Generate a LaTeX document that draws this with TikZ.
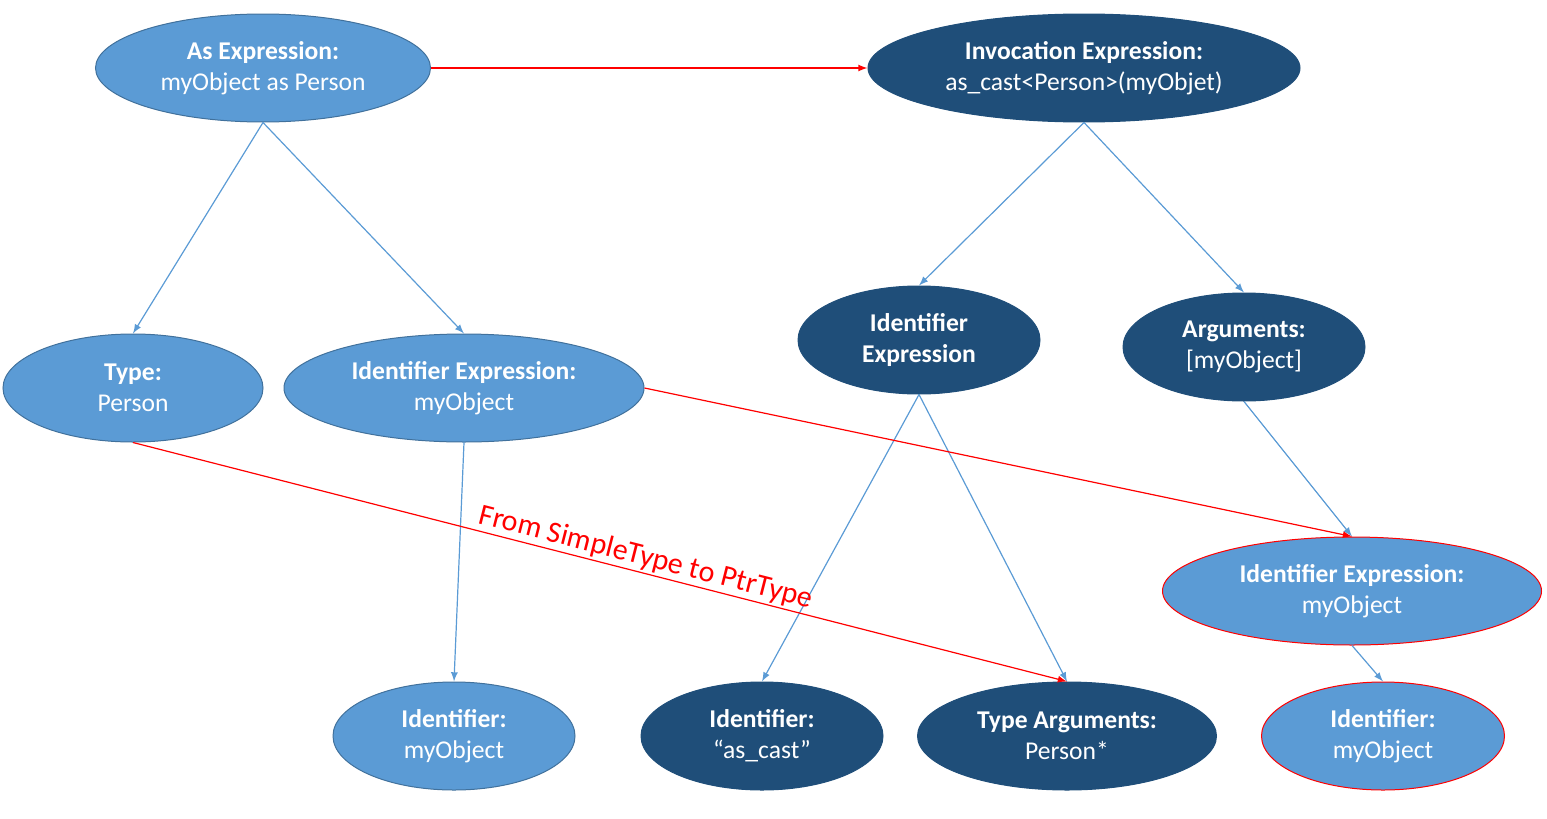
\documentclass[tikz,border=0pt]{standalone}
\usepackage{fontspec}
\setmainfont{Carlito}
\usepackage{xcolor}
\usetikzlibrary{shapes.geometric}

\definecolor{lightblue}{HTML}{5B9BD5}
\definecolor{lightrim}{HTML}{41719C}
\definecolor{darkblue}{HTML}{1F4E79}
\definecolor{edgeblue}{HTML}{5B9BD5}
\definecolor{pptred}{HTML}{FF0000}

\tikzset{
  astnode/.style={ellipse,inner sep=0pt,text=white,align=center,line width=0.5pt,
    minimum height=54pt,font=\fontsize{12.8}{15.5}\selectfont},
  lightnode/.style={astnode,fill=lightblue,draw=lightrim},
  darknode/.style={astnode,fill=darkblue,draw=darkblue},
  newnode/.style={astnode,fill=lightblue,draw=pptred},
  childedge/.style={draw=edgeblue,line width=0.6pt,-latex},
  rewrite/.style={draw=pptred,line width=0.6pt,-latex}
}

\begin{document}
\begin{tikzpicture}[x=0.5pt,y=-0.5pt]
          \useasboundingbox (0,0) rectangle (1547,819);

          % source tree
          \node[lightnode,minimum width=167.5pt] (asexpr) at (263,68) {\textbf{As Expression:}\\myObject as Person};
          \node[lightnode,minimum width=130pt] (type) at (133,388) {\textbf{Type:}\\Person};
          \node[lightnode,minimum width=180pt] (idexpr) at (464,388) {\textbf{Identifier Expression:}\\myObject};
          \node[lightnode,minimum width=121pt] (ident) at (454,736) {\textbf{Identifier:}\\myObject};

          % rewritten tree
          \node[darknode,minimum width=216pt] (invoke) at (1084,68) {\textbf{Invocation Expression:}\\as\_cast<Person>(myObjet)};
          \node[darknode,minimum width=121pt] (callee) at (919,340) {\textbf{Identifier}\\\textbf{Expression}};
          \node[darknode,minimum width=121pt] (args) at (1244,347) {\textbf{Arguments:}\\{[}myObject{]}};
          \node[darknode,minimum width=121pt] (ascast) at (762,736) {\textbf{Identifier:}\\“as\_cast”};
          \node[darknode,minimum width=149.5pt] (typeargs) at (1067,736) {\textbf{Type Arguments:}\\Person*};
          \node[newnode,minimum width=189.5pt] (argexpr) at (1352,591) {\textbf{Identifier Expression:}\\myObject};
          \node[newnode,minimum width=121.5pt] (argident) at (1383,736) {\textbf{Identifier:}\\myObject};

          \draw[childedge] (asexpr.south) -- (type.north);
          \draw[childedge] (asexpr.south) -- (idexpr.north);
          \draw[childedge] (idexpr.south) -- (ident.north);

          \draw[childedge] (invoke.south) -- (callee.north);
          \draw[childedge] (invoke.south) -- (args.north);
          \draw[childedge] (callee.south) -- (ascast.north);
          \draw[childedge] (callee.south) -- (typeargs.north);
          \draw[childedge] (args.south) -- (argexpr.north);
          \draw[childedge] (argexpr.south) -- (argident.north);

          % red mapping
          \draw[rewrite] (asexpr.east) -- (invoke.west);
          \draw[rewrite] (type.south) -- node[pos=0.545,above,sloped,inner sep=1pt,text=pptred,font=\fontsize{15}{18}\selectfont] {From SimpleType to PtrType} (typeargs.north);
          \draw[rewrite] (idexpr.east) -- (argexpr.north);
        \end{tikzpicture}
\end{document}
